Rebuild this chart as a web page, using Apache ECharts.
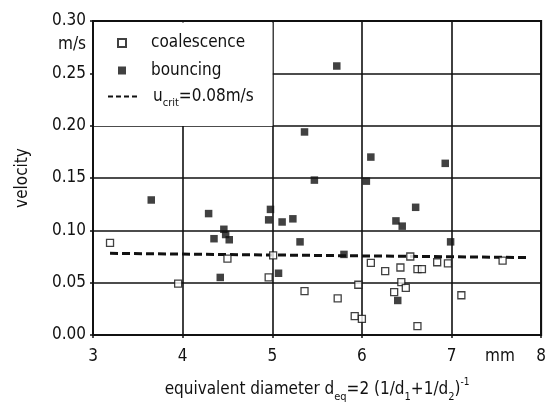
<!DOCTYPE html>
<html><head><meta charset="utf-8">
<script src="https://cdn.jsdelivr.net/npm/echarts@6/dist/echarts.min.js"></script>
<style>html,body{margin:0;padding:0;background:#fff}#c{width:549px;height:408px}</style>
</head><body><div id="c"></div>
<script>
// --- data ---
const coalescence = [
  [3.19,0.088],[3.95,0.049],[4.50,0.073],[5.01,0.076],[4.96,0.055],[5.36,0.042],
  [5.73,0.035],[5.96,0.048],[5.92,0.018],[6.00,0.0155],[6.10,0.069],[6.26,0.061],
  [6.43,0.0645],[6.54,0.075],[6.62,0.063],[6.67,0.063],[6.84,0.0695],[6.96,0.0685],
  [7.57,0.071],[7.11,0.038],[6.44,0.0505],[6.49,0.045],[6.36,0.041],[6.62,0.0085]
];
const bouncing = [
  [3.65,0.129],[4.29,0.116],[4.46,0.101],[4.48,0.096],[4.52,0.091],[4.35,0.092],
  [4.42,0.055],[4.98,0.120],[4.96,0.110],[5.11,0.108],[5.23,0.111],[5.31,0.089],
  [5.07,0.059],[5.47,0.148],[5.36,0.194],[5.72,0.257],[6.05,0.147],[6.10,0.170],
  [6.93,0.164],[6.60,0.122],[6.38,0.109],[6.45,0.104],[6.99,0.089],[5.80,0.077],
  [6.40,0.033]
];
const ucrit = [[3.19,0.078],[7.86,0.074]];
const xTicks = [3,4,5,6,7,8];
const yTicks = [0,0.05,0.10,0.15,0.20,0.25,0.30];
const xUnit = 'mm', xUnitPos = 7.54;
const yUnit = 'm/s', yUnitPos = 0.277;

const FONT = "'DejaVu Sans Condensed','DejaVu Sans',sans-serif";
const chart = echarts.init(document.getElementById('c'), null, {renderer:'canvas'});
chart.setOption({
  animation:false,
  backgroundColor:'#fff',
  grid:{left:93,top:21,width:453,height:316,show:true,borderColor:'#111',borderWidth:2,backgroundColor:'transparent'},
  graphic:[{type:'rect',left:94,top:22.5,z:1,shape:{width:178.5,height:103.5},style:{fill:'#fff'}}],
  legend:[
    {data:['coalescence','bouncing'],orient:'vertical',left:117,top:33,padding:0,
     itemWidth:8,itemHeight:8,itemGap:7.5,
     textStyle:{fontFamily:FONT,fontSize:17,color:'#111',lineHeight:20,padding:[0,0,0,20]}},
    {data:['ucrit'],left:107,top:88,padding:0,itemWidth:30,itemHeight:10,
     itemStyle:{color:'rgba(0,0,0,0)',borderColor:'rgba(0,0,0,0)',borderWidth:0},
     lineStyle:{color:'#111',width:2,type:[5,3]},
     formatter:()=> '{a|u}{s|crit}{a|=0.08m/s}',
     textStyle:{fontFamily:FONT,fontSize:17,color:'#111',padding:[0,0,0,10],
       rich:{a:{fontFamily:FONT,fontSize:17,color:'#111',lineHeight:24,verticalAlign:'middle'},
             s:{fontFamily:FONT,fontSize:11,color:'#111',lineHeight:11,verticalAlign:'bottom'}}}}
  ],
  xAxis:{type:'value',min:3,max:8,interval:1,
    name:'{a|equivalent diameter d}{s|eq}{a|=2 (1/d}{s|1}{a|+1/d}{s|2}{a|)}{p|-1}',
    nameLocation:'middle',nameGap:42,
    nameTextStyle:{rich:{
      a:{fontFamily:FONT,fontSize:17,color:'#111',lineHeight:26,verticalAlign:'middle'},
      s:{fontFamily:FONT,fontSize:11,color:'#111',lineHeight:11,verticalAlign:'bottom'},
      p:{fontFamily:FONT,fontSize:10,color:'#111',lineHeight:10,verticalAlign:'top'}}},
    axisLine:{show:true,onZero:false,lineStyle:{color:'#111',width:2}},
    axisTick:{show:true,length:3,customValues:xTicks,lineStyle:{color:'#111',width:1.5}},
    splitLine:{show:true,lineStyle:{color:'#111',width:1.6}},
    axisLabel:{customValues:[...xTicks,xUnitPos],margin:13,fontFamily:FONT,fontSize:17,color:'#111',
      formatter:v=>Math.abs(v-xUnitPos)<1e-6?xUnit:String(v)}},
  yAxis:{type:'value',min:0,max:0.30,interval:0.05,
    name:'velocity',nameLocation:'middle',nameRotate:90,nameGap:62,
    nameTextStyle:{fontFamily:FONT,fontSize:17,color:'#111'},
    axisLine:{show:true,onZero:false,lineStyle:{color:'#111',width:2}},
    axisTick:{show:true,length:3,customValues:yTicks,lineStyle:{color:'#111',width:1.5}},
    splitLine:{show:true,lineStyle:{color:'#111',width:1.6}},
    axisLabel:{customValues:[...yTicks,yUnitPos],margin:7,fontFamily:FONT,fontSize:17,color:'#111',
      formatter:v=>Math.abs(v-yUnitPos)<1e-6?yUnit:v.toFixed(2)}},
  series:[
    {name:'coalescence',type:'scatter',data:coalescence,symbol:'rect',symbolSize:7,z:3,
     itemStyle:{color:'#fff',borderColor:'#111',borderWidth:1.3}},
    {name:'bouncing',type:'scatter',data:bouncing,symbol:'rect',symbolSize:7.5,z:3,
     itemStyle:{color:'#111'}},
    {name:'ucrit',type:'line',data:ucrit,symbol:'none',z:2,
     lineStyle:{color:'#111',width:3,type:[8,4]},itemStyle:{color:'#111'}}
  ]
});
</script></body></html>
